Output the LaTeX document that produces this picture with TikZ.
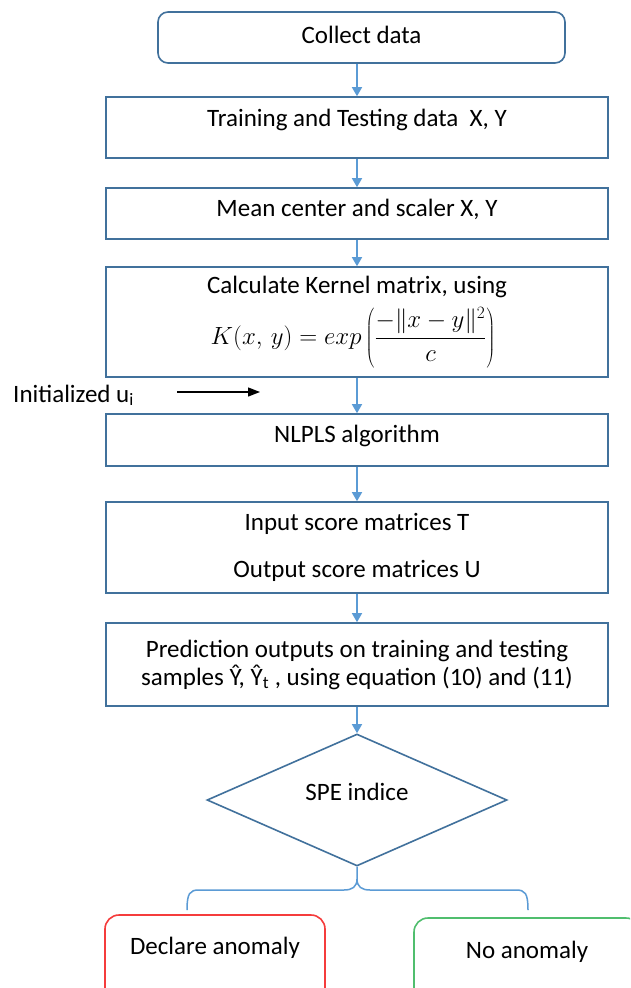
\documentclass[tikz,border=0pt]{standalone}
\usepackage{fontspec}
\setmainfont{Carlito}
\usetikzlibrary{shapes.geometric,arrows.meta}
\definecolor{boxblue}{RGB}{65,113,156}
\definecolor{arrblue}{RGB}{91,155,213}
\definecolor{redline}{RGB}{245,60,60}
\definecolor{greenline}{RGB}{80,190,110}
\begin{document}
\begin{tikzpicture}[x=1pt,y=-1pt,
  every node/.style={font=\fontsize{25}{30}\selectfont, inner sep=0pt},
  box/.style={draw=boxblue, line width=1.6pt, rectangle, minimum width=502pt, align=center},
  arr/.style={draw=arrblue, line width=1.5pt, -{Triangle[width=10pt,length=9pt]}},
  brk/.style={draw=arrblue, line width=1.5pt},
  ]
\useasboundingbox (0,0) rectangle (630,988);
\clip (0,0) rectangle (630,988);
\fill[white] (0,0) rectangle (630,988);

\node[box, rounded corners=10pt, minimum width=407pt, text height=31pt, text depth=20pt, anchor=base] (collect) at (361.5,43) {Collect data};
\node[box, text height=29pt, text depth=32pt, anchor=base] (train) at (357,126) {Training and Testing data\ \ X, Y};
\node[box, text height=28pt, text depth=23pt, anchor=base] (mean) at (357,216) {Mean center and scaler X, Y};
\node[box, minimum height=110pt] (kernel) at (357,322) {Calculate Kernel matrix, using\\[9pt]{\fontsize{23}{28}\selectfont $\displaystyle K(x,\,y)= exp\left(\frac{-\|x-y\|^2}{c}\right)$}\hspace*{8pt}};
\node[box, text height=28pt, text depth=24pt, anchor=base] (nlpls) at (357,442) {NLPLS algorithm};
\node[box, minimum height=91pt] (inputs) at (357,547.5) {Input score matrices T\\[17pt]Output score matrices U};
\node[box, minimum height=83pt] (pred) at (357,664.5) {Prediction outputs on training and testing\\[-2pt]samples Ŷ, Ŷ\textsubscript{t} , using equation (10) and (11)};
\node[draw=boxblue, line width=1.6pt, diamond, minimum width=300pt, minimum height=132pt, text height=10pt, text depth=10pt, anchor=base] (spe) at (357,800) {SPE indice};
\node[draw=redline, line width=1.6pt, rounded corners=14pt, minimum width=220pt, text height=39pt, text depth=60pt, anchor=base] (declare) at (215,954) {Declare anomaly};
\node[draw=greenline, line width=1.6pt, rounded corners=14pt, minimum width=226pt, text height=40pt, text depth=60pt, anchor=base] (noanom) at (527,958) {No anomaly};

\node[anchor=base west] (init) at (13,402) {Initialized u\textsubscript{i}};
\coordinate (ia) at (177,392);
\coordinate (ib) at (260,392);
\draw[black, line width=1.3pt, -{Triangle[width=9pt,length=12pt]}] (ia) -- (ib);

\draw[arr] (train.north |- collect.south) -- (train.north);
\draw[arr] (train) -- (mean);
\draw[arr] (mean) -- (kernel);
\draw[arr] (kernel) -- (nlpls);
\draw[arr] (nlpls) -- (inputs);
\draw[arr] (inputs) -- (pred);
\draw[arr] (pred) -- (spe);

\coordinate (bm) at (357,879);
\coordinate (bl) at (187,910);
\coordinate (br) at (528,910);
\draw[brk] (spe.south) -- (bm) .. controls (357,887) and (352,890) .. (344,890) -- (199,890) .. controls (190,890) and (187,893) .. (bl);
\draw[brk] (bm) .. controls (357,887) and (362,890) .. (370,890) -- (516,890) .. controls (525,890) and (528,893) .. (br);
\end{tikzpicture}
\end{document}
